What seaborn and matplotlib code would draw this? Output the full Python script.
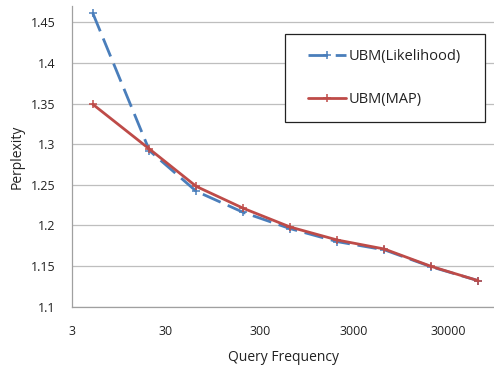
import matplotlib
matplotlib.use("Agg")
import matplotlib.pyplot as plt
import seaborn as sns
import pandas as pd
from matplotlib.ticker import FixedLocator, NullLocator
from matplotlib.patches import Rectangle

freq = [5, 20, 63, 200, 630, 2000, 6300, 20000, 63000]
likelihood = [1.461, 1.292, 1.242, 1.216, 1.196, 1.180, 1.170, 1.149, 1.132]
map_vals = [1.349, 1.294, 1.248, 1.221, 1.198, 1.182, 1.171, 1.1495, 1.132]
x_ticks = [3, 30, 300, 3000, 30000]
x_tick_labels = ["3", "30", "300", "3000", "30000"]
y_ticks = [1.1, 1.15, 1.2, 1.25, 1.3, 1.35, 1.4, 1.45]
y_tick_labels = ["1.1", "1.15", "1.2", "1.25", "1.3", "1.35", "1.4", "1.45"]

sns.set_style("white")
plt.rcParams['font.family'] = ['Open Sans', 'DejaVu Sans']

df = pd.DataFrame({
    "freq": freq * 2,
    "perp": likelihood + map_vals,
    "series": ["UBM(Likelihood)"] * len(freq) + ["UBM(MAP)"] * len(freq),
})

W, H = 494, 369
fig = plt.figure(figsize=(W / 100, H / 100), dpi=100)
ax = fig.add_axes([72/W, 1 - 306.7/H, 1 - 72/W, (306.7 - 6)/H])

blue = "#4A7EBB"
red = "#BE4B48"
sns.lineplot(data=df[df.series == "UBM(Likelihood)"], x="freq", y="perp", ax=ax,
             color=blue, linewidth=2.0, marker="+", markersize=6, markeredgewidth=1.1,
             markeredgecolor=blue, label="UBM(Likelihood)", zorder=3, legend=False)
sns.lineplot(data=df[df.series == "UBM(MAP)"], x="freq", y="perp", ax=ax,
             color=red, linewidth=2.0, marker="+", markersize=6, markeredgewidth=1.1,
             markeredgecolor=red, label="UBM(MAP)", zorder=4, legend=False)
lines = ax.get_lines()
lines[0].set_dashes([7, 2.8])

ax.set_xscale("log")
ax.set_xlim(3, 3 * 10 ** ((494 - 72) / 94))
ax.set_ylim(1.1, 1.47)
ax.xaxis.set_major_locator(FixedLocator(x_ticks))
ax.xaxis.set_minor_locator(NullLocator())
ax.set_xticklabels(x_tick_labels)
ax.set_yticks(y_ticks)
ax.set_yticklabels(y_tick_labels)
ax.tick_params(axis="both", labelsize=9, colors="#222222", length=4, width=0.8,
               direction="out", color="#A0A0A0")
ax.tick_params(axis="x", pad=9)
ax.tick_params(axis="y", length=0, pad=12)
ax.grid(axis="y", color="#BEBEBE", linewidth=0.9)
ax.grid(axis="x", visible=False)
for s in ["top", "right"]:
    ax.spines[s].set_visible(False)
for s in ["left", "bottom"]:
    ax.spines[s].set_color("#A0A0A0")
    ax.spines[s].set_linewidth(0.9)

ax.set_xlabel("Query Frequency", fontsize=10, color="#222222", labelpad=9)
ax.set_ylabel("Perplexity", fontsize=10, color="#222222", labelpad=4)

# legend frame
ax.add_patch(Rectangle((285/W, 1 - 122/H), 200/W, 88/H, transform=fig.transFigure,
                       facecolor="white", edgecolor="#222222", linewidth=0.9,
                       zorder=5, clip_on=False))
leg = ax.legend(handles=lines[:2], labels=["UBM(Likelihood)", "UBM(MAP)"],
                loc="upper left", bbox_to_anchor=(308/W, 1 - 49/H),
                bbox_transform=fig.transFigure, frameon=False,
                fontsize=10.5, labelspacing=1.95, borderpad=0, handlelength=2.6,
                handletextpad=0.2, borderaxespad=0)
leg.set_zorder(6)
for t in leg.get_texts():
    t.set_color("#222222")

fig.savefig("out.png", dpi=100)
